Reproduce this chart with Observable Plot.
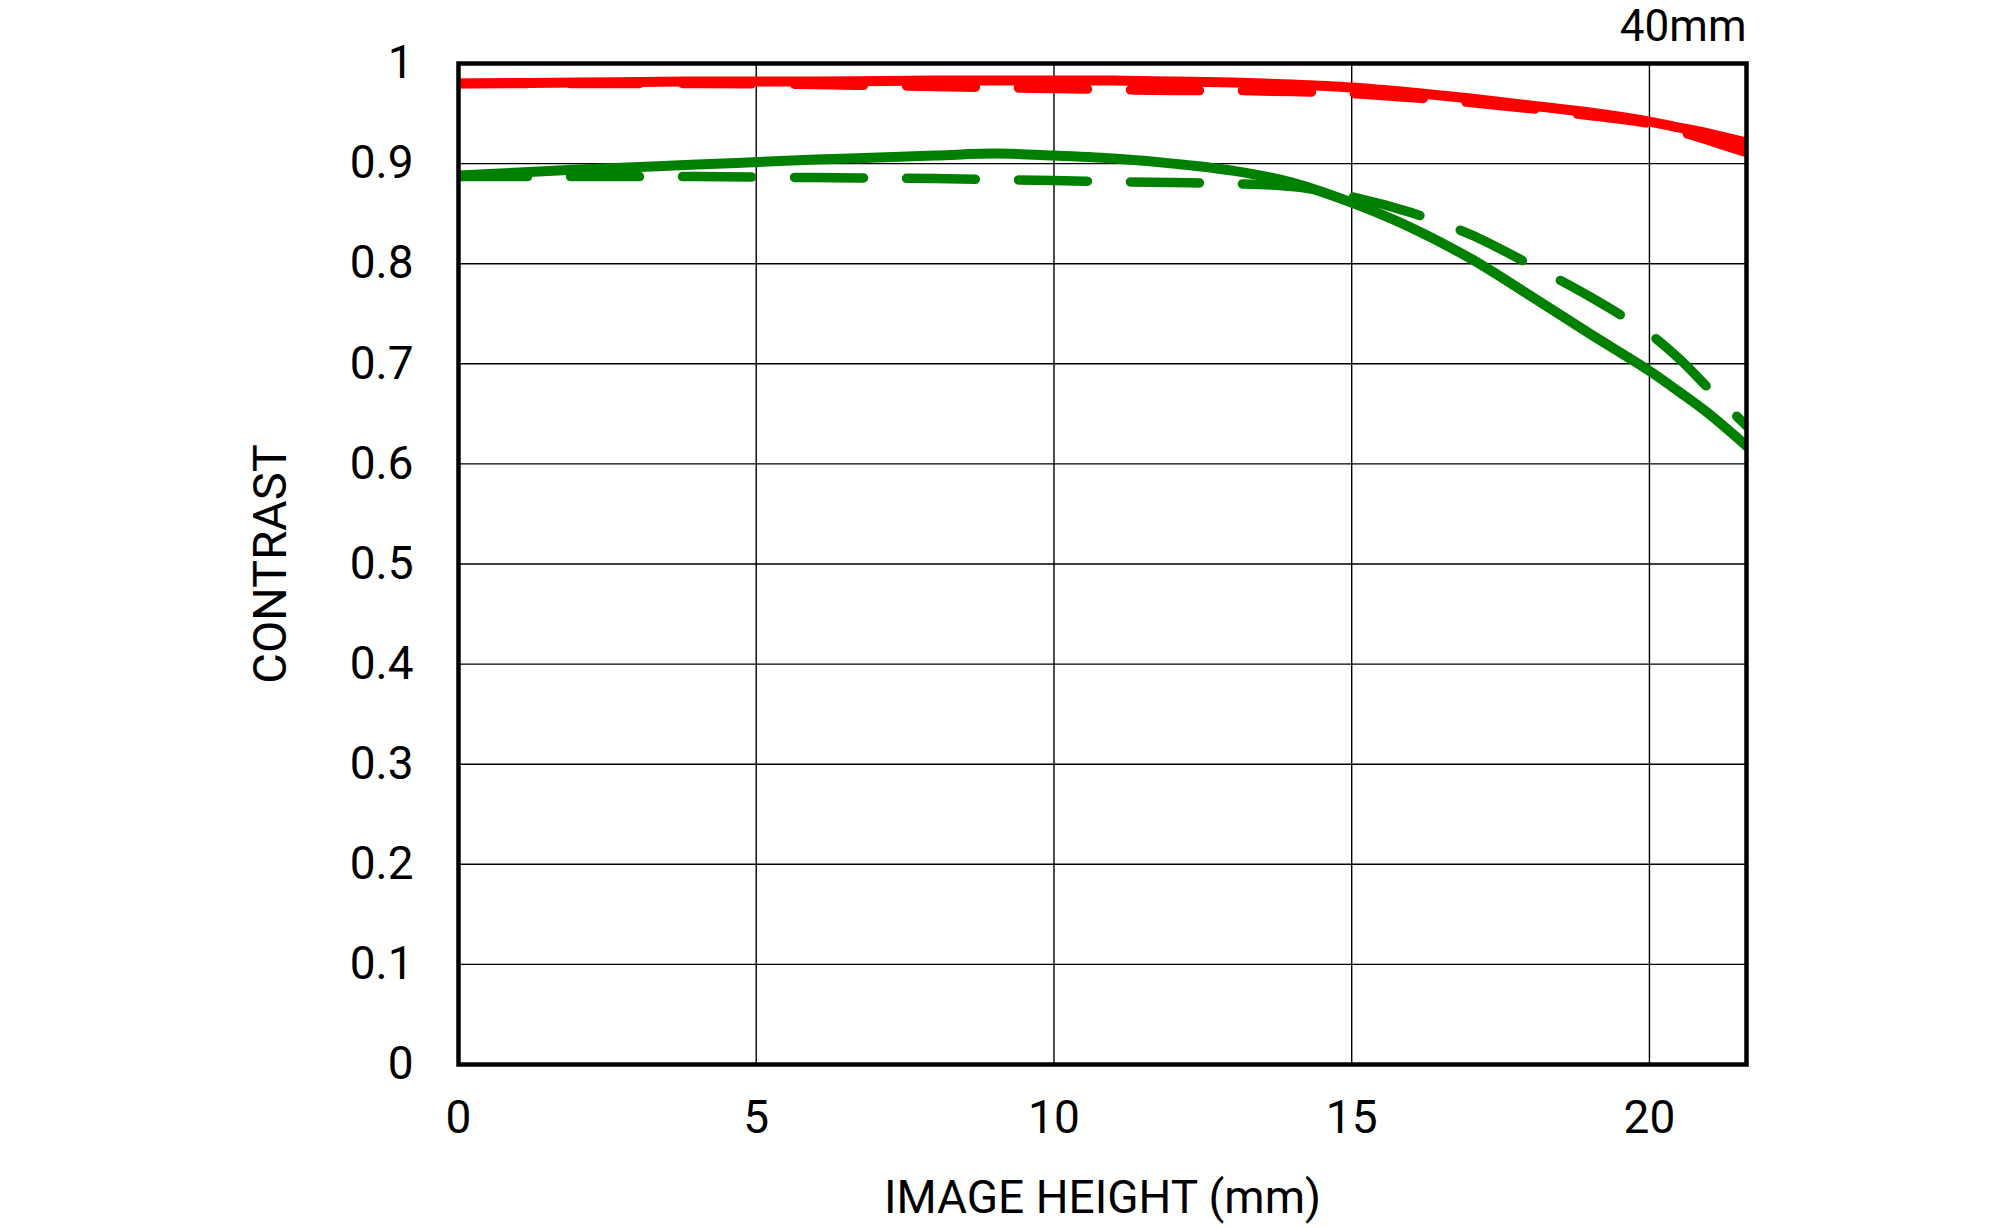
<!DOCTYPE html>
<html>
<head>
<meta charset="utf-8">
<script src="https://cdn.jsdelivr.net/npm/d3@7"></script>
<script src="https://cdn.jsdelivr.net/npm/@observablehq/plot@0.6"></script>
<style>
  html, body { margin: 0; padding: 0; background: #fff; }
  #chart svg { display: block; }
</style>
</head>
<body>
<div id="chart"></div>
<script>
// Image height (mm)
const imageHeight = [0, 2, 4, 6, 8, 9, 10, 11, 12, 13, 14, 15, 16, 17, 18, 19, 20, 20.5, 21, 21.63];
// Contrast series
const redSolid   = [0.980,0.981,0.982,0.982,0.983,0.983,0.983,0.983,0.982,0.981,0.979,0.976,0.971,0.965,0.958,0.951,0.942,0.936,0.930,0.921];
const redDashed  = [0.980,0.980,0.980,0.979,0.977,0.976,0.975,0.974,0.973,0.973,0.972,0.970,0.966,0.961,0.955,0.948,0.940,0.932,0.923,0.911];
const greenSolid = [0.888,0.894,0.899,0.904,0.908,0.910,0.908,0.905,0.900,0.893,0.881,0.861,0.836,0.805,0.768,0.730,0.693,0.672,0.650,0.618];
const greenDashed= [0.887,0.887,0.887,0.886,0.885,0.884,0.883,0.882,0.881,0.880,0.877,0.867,0.851,0.829,0.799,0.767,0.730,0.705,0.675,0.638];

const xTicks = [0, 5, 10, 15, 20];
const yTicks = [0, 0.1, 0.2, 0.3, 0.4, 0.5, 0.6, 0.7, 0.8, 0.9, 1];
const xGrid = [5, 10, 15, 20];
const yGrid = [0.1, 0.2, 0.3, 0.4, 0.5, 0.6, 0.7, 0.8, 0.9];
const title = "40mm";
const xLabel = "IMAGE HEIGHT (mm)";
const yLabel = "CONTRAST";

const toRows = (ys) => imageHeight.map((x, i) => ({x, y: ys[i]}));
const fmt = d => String(+d.toFixed(1));

const plot = Plot.plot({
  width: 2000,
  height: 1228,
  marginLeft: 458,
  marginRight: 254,
  marginTop: 63,
  marginBottom: 164,
  style: {fontFamily: "Roboto, sans-serif", fontSize: "46px", color: "#000", background: "#fff"},
  x: {domain: [0, 21.63]},
  y: {domain: [0, 1]},
  marks: [
    Plot.gridX(xGrid, {stroke: "#000", strokeOpacity: 1, strokeWidth: 1.4}),
    Plot.gridY(yGrid, {stroke: "#000", strokeOpacity: 1, strokeWidth: 1.4}),
    Plot.axisX({ticks: xTicks, tickSize: 0, tickPadding: 36, label: null, fontSize: 46}),
    Plot.axisY({ticks: yTicks, tickSize: 0, tickPadding: 45, label: null, fontSize: 46, tickFormat: fmt}),
    Plot.line(toRows(redSolid), {x: "x", y: "y", stroke: "#ff0000", strokeWidth: 10, curve: "catmull-rom", clip: true}),
    Plot.line(toRows(redDashed), {x: "x", y: "y", stroke: "#ff0000", strokeWidth: 9.5, curve: "catmull-rom", strokeDasharray: "69,43", strokeLinecap: "round", clip: true}),
    Plot.line(toRows(greenSolid), {x: "x", y: "y", stroke: "#008000", strokeWidth: 10, curve: "catmull-rom", clip: true}),
    Plot.line(toRows(greenDashed), {x: "x", y: "y", stroke: "#008000", strokeWidth: 9.5, curve: "catmull-rom", strokeDasharray: "69,43", strokeLinecap: "round", clip: true}),
    Plot.frame({stroke: "#000", strokeWidth: 4.5}),
    Plot.text([title], {frameAnchor: "top-right", text: d => d, textAnchor: "end", lineAnchor: "middle", dy: -37, fontSize: 44, fill: "#000"}),
    Plot.text([xLabel], {frameAnchor: "bottom", text: d => d, textAnchor: "middle", lineAnchor: "middle", dy: 134, fontSize: 46, fill: "#000"}),
    Plot.text([yLabel], {frameAnchor: "left", text: d => d, textAnchor: "middle", lineAnchor: "middle", dx: -188, rotate: -90, fontSize: 47, fill: "#000"})
  ]
});
document.getElementById("chart").appendChild(plot);
</script>
</body>
</html>
